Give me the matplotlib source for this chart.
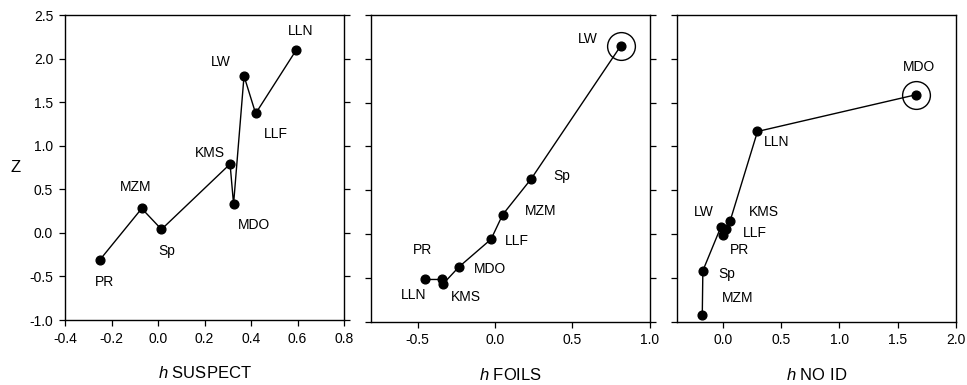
import matplotlib
matplotlib.use("Agg")
import matplotlib.pyplot as plt

plt.rcParams['font.family'] = ['Liberation Sans', 'DejaVu Sans']
plt.rcParams['axes.unicode_minus'] = False
plt.rcParams['mathtext.fontset'] = 'custom'
plt.rcParams['mathtext.it'] = 'Liberation Sans:italic'
plt.rcParams['mathtext.rm'] = 'Liberation Sans'

# ---- data ----
names_suspect = ["PR", "MZM", "Sp", "KMS", "MDO", "LW", "LLF", "LLN"]
h_suspect = [-0.25, -0.07, 0.015, 0.31, 0.325, 0.37, 0.42, 0.595]
z_suspect = [-0.31, 0.28, 0.04, 0.79, 0.33, 1.80, 1.37, 2.10]

names_foils = ["LLN", "PR", "KMS", "MDO", "LLF", "MZM", "Sp", "LW"]
h_foils = [-0.455, -0.345, -0.335, -0.235, -0.025, 0.05, 0.235, 0.815]
z_foils = [-0.52, -0.52, -0.57, -0.38, -0.06, 0.22, 0.63, 2.15]

names_noid = ["MZM", "Sp", "LW", "PR", "LLF", "KMS", "LLN", "MDO"]
h_noid = [-0.18, -0.175, -0.02, 0.0, 0.02, 0.06, 0.295, 1.66]
z_noid = [-0.93, -0.42, 0.08, -0.01, 0.06, 0.15, 1.17, 1.59]

highlight_foils = "LW"
highlight_noid = "MDO"

xticks_suspect = [-0.4, -0.2, 0.0, 0.2, 0.4, 0.6, 0.8]
xticks_foils = [-0.5, 0.0, 0.5, 1.0]
xticks_noid = [0.0, 0.5, 1.0, 1.5, 2.0]
yticks = [-1.0, -0.5, 0.0, 0.5, 1.0, 1.5, 2.0, 2.5]

xlabels = ["SUSPECT", "FOILS", "NO ID"]

# label offsets in pixels (style)
off_suspect = {"LLN": (4, 19), "LW": (-23, 14), "LLF": (20, -21), "KMS": (-20, 11),
               "MZM": (-6, 21), "Sp": (5, -22), "MDO": (20, -21), "PR": (5, -22)}
off_foils = {"LW": (-33, 7), "Sp": (31, 3), "MZM": (38, 4), "LLF": (26, -2),
             "MDO": (31, -2), "PR": (-19, 29), "LLN": (-11, -16), "KMS": (23, -13)}
off_noid = {"MDO": (3, 28), "LLN": (19, -11), "LW": (-17, 15), "KMS": (34, 9),
            "LLF": (29, -4), "PR": (16, -15), "Sp": (24, -3), "MZM": (35, 17)}

W, H = 967, 385
fig = plt.figure(figsize=(W / 100, H / 100), dpi=100)

def pos(x0, x1, y0, y1):
    return [x0 / W, 1 - y1 / H, (x1 - x0) / W, (y1 - y0) / H]

ax1 = fig.add_axes(pos(65, 344, 15, 320))
ax2 = fig.add_axes(pos(371.3, 649.5, 15, 321.5))
ax3 = fig.add_axes(pos(676.7, 955.7, 15, 321.5))

panels = [
    (ax1, names_suspect, h_suspect, z_suspect, off_suspect, None, xticks_suspect, (-0.4, 0.8)),
    (ax2, names_foils, h_foils, z_foils, off_foils, highlight_foils, xticks_foils, (-0.8, 1.0)),
    (ax3, names_noid, h_noid, z_noid, off_noid, highlight_noid, xticks_noid, (-0.4, 2.0)),
]

for i, (ax, names, hs, zs, offs, hl, xt, xl) in enumerate(panels):
    ax.plot(hs, zs, color='black', lw=1.0, marker='o', ms=6.3, mfc='black', mec='black', zorder=3)
    if hl is not None:
        k = names.index(hl)
        ax.plot([hs[k]], [zs[k]], marker='o', ms=20, mfc='none', mec='black', mew=1.0, zorder=4)
    for n, x, y in zip(names, hs, zs):
        ax.annotate(n, (x, y), xytext=offs[n], textcoords='offset pixels',
                    ha='center', va='center', fontsize=10)
    ax.set_xlim(*xl)
    ax.set_ylim(-1.0, 2.5)
    ax.set_xticks(xt)
    ax.set_xticklabels([f"{v:.1f}" for v in xt])
    ax.set_yticks(yticks)
    ax.tick_params(direction='out', length=4.5, width=0.9, labelsize=10, pad=4)
    for s in ax.spines.values():
        s.set_linewidth(1.0)
    ax.set_xlabel(r"$\mathit{h}$ " + xlabels[i], fontsize=12, labelpad=14)
    if i == 0:
        ax.set_yticklabels([f"{v:.1f}" for v in yticks])
        ax.set_ylabel("Z", fontsize=12, rotation=0, labelpad=10, va='center')
        ax.tick_params(axis='y', right=True, labelright=False)
    elif i == 1:
        ax.tick_params(axis='y', left=True, right=True, labelleft=False, labelright=False)
    else:
        ax.tick_params(axis='y', left=True, right=False, labelleft=False)

fig.savefig("out.png", dpi=100)
